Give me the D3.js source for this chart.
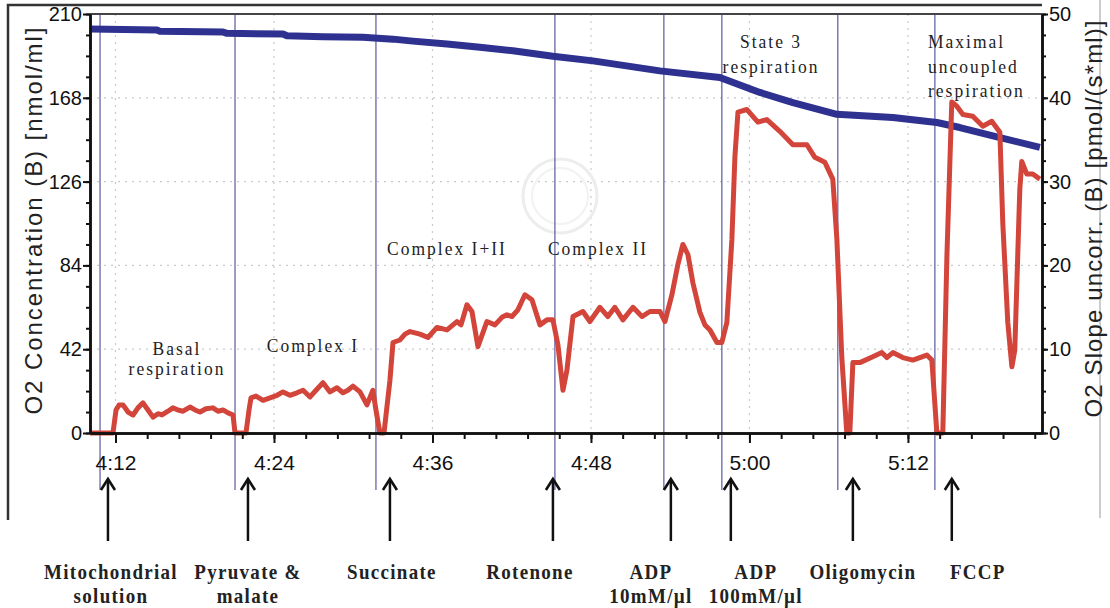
<!DOCTYPE html>
<html><head><meta charset="utf-8">
<script src="https://cdn.jsdelivr.net/npm/d3@7"></script>
<style>body{margin:0;background:#fff}svg{display:block}</style>
</head><body><svg id="c" width="1110" height="608"></svg>
<script>
// ---------------- DATA ----------------
// time in minutes after 0:00 (e.g. 252 = 4:12)
const redTime = [250.07,250.83,251.81,252.04,252.27,252.57,252.95,253.33,253.70,254.08,254.46,254.84,255.22,255.52,255.97,256.35,256.73,257.11,257.64,258.02,258.40,258.85,259.38,259.76,260.14,260.52,260.90,261.05,261.88,262.11,262.26,262.64,263.17,263.70,264.23,264.68,265.21,265.74,266.20,266.73,267.18,267.71,268.24,268.77,269.22,269.60,269.98,270.51,271.04,271.49,271.72,272.02,272.33,272.78,273.01,273.54,273.92,274.30,275.05,275.66,276.34,277.10,277.85,278.16,278.61,278.99,279.44,280.12,280.73,281.26,281.64,282.02,282.47,283.00,283.53,284.14,284.67,285.12,285.50,285.88,286.18,286.64,287.39,287.92,288.68,289.28,289.81,290.42,291.18,291.86,292.46,293.22,293.60,294.13,294.58,294.96,295.34,295.72,296.25,296.63,297.01,297.54,297.91,298.29,298.67,298.90,299.13,299.81,300.64,301.32,302.30,303.29,304.35,304.95,305.71,306.31,306.62,306.99,307.37,307.60,307.83,308.36,309.34,310.02,310.40,310.86,311.61,312.37,313.43,313.81,314.19,314.64,314.95,315.32,315.70,316.16,316.91,317.67,318.35,318.96,319.18,319.56,319.87,320.09,320.47,320.62,321.00,321.45,321.99];
const redValue = [0,0,0,2.75,3.35,3.35,2.5,2.15,3.0,3.6,2.75,1.9,2.3,2.15,2.6,3.0,2.75,2.6,3.1,2.75,2.5,2.9,3.0,2.6,2.75,2.4,2.15,0,0,2.75,4.2,4.4,3.9,4.2,4.5,4.9,4.5,4.8,5.1,4.3,5.1,6.0,4.9,5.4,4.8,5.1,5.6,4.9,3.35,5.1,2.75,0,0,6.3,10.8,11.1,11.8,12.1,11.8,11.4,12.6,12.3,13.3,12.9,15.3,14.5,10.3,13.3,12.9,13.8,14.1,13.9,14.7,16.5,15.9,12.9,13.5,13.5,10.5,5.1,7.5,13.9,14.5,13.3,15.0,13.9,15.0,13.5,15.0,13.9,14.5,14.5,13.3,16.5,20.1,22.5,21.3,17.9,14.4,12.9,12.3,10.8,10.8,13.2,23.1,33.0,38.3,38.6,37.1,37.4,36.0,34.4,34.4,32.9,32.3,30.3,23.1,9.1,0,0,8.4,8.4,9.1,9.6,9.0,9.6,9.0,8.7,9.3,8.7,0,0,21.1,39.5,39.0,38.0,37.8,36.6,37.2,35.9,25.1,13.2,7.9,9.9,29.1,32.4,30.9,30.9,30.3];

const blueTime  = [250.07,255.14,255.37,260.14,260.44,264.68,264.98,267.71,270.74,273.01,274.52,277.10,279.59,282.09,285.12,288.15,293.22,297.76,300.79,303.29,306.62,310.86,314.19,315.93,318.43,321.99];
const blueValue = [202.5,202.0,201.3,201.0,200.3,200.0,199.1,198.6,198.3,197.4,196.4,195.0,193.3,191.6,188.8,186.5,181.5,178.2,170.7,165.6,159.7,158.1,155.6,153.1,148.9,143.2];

const xTickTimes  = [252,264,276,288,300,312];
const xTickLabels = ["4:12","4:24","4:36","4:48","5:00","5:12"];
const leftTicks   = [0,42,84,126,168,210];
const rightTicks  = [0,10,20,30,40,50];

const eventTimes = [250.83,261.05,271.72,285.27,293.52,297.91,306.69,314.04];
const arrowTimes = [251.43,262.03,272.78,285.12,294.05,298.59,307.83,315.32];
const additions  = [["Mitochondrial","solution"],["Pyruvate &","malate"],["Succinate"],["Rotenone"],["ADP","10mM/\u00b5l"],["ADP","100mM/\u00b5l"],["Oligomycin"],["FCCP"]];
const phaseLabels = [["Basal","respiration"],["Complex I"],["Complex I+II"],["Complex II"],["State 3","respiration"],["Maximal","uncoupled","respiration"]];

const leftTitle  = "O2 Concentration (B) [nmol/ml]";
const rightTitle = "O2 Slope uncorr. (B) [pmol/(s*ml)]";

// ---------------- LAYOUT ----------------
const svg = d3.select("#c");
const L = 90, R = 1042, T = 14, B = 433;
const x  = d3.scaleLinear().domain([250.07, 322.15]).range([L, R]);
const yL = d3.scaleLinear().domain([0, 210]).range([B, T]);
const yR = d3.scaleLinear().domain([0, 50]).range([B, T]);
const SANS = "'Liberation Sans', Arial, sans-serif";
const SERIF = "'Liberation Serif', 'Times New Roman', serif";

// outer frame
svg.append("path").attr("d", `M8,520 L8,5 L${R},5`).attr("fill","none").attr("stroke","#333").attr("stroke-width",2.5);
svg.append("line").attr("x1",1100).attr("x2",1100).attr("y1",0).attr("y2",518).attr("stroke","#bbb").attr("stroke-width",1.5);

// grid (dotted)
const grid = svg.append("g").attr("stroke","#c9c9c9").attr("stroke-width",1.2).attr("stroke-dasharray","2,5");
grid.selectAll("line.h").data(leftTicks.slice(1,-1)).join("line")
  .attr("x1",L).attr("x2",R).attr("y1",d=>yL(d)).attr("y2",d=>yL(d));
grid.selectAll("line.v").data(xTickTimes).join("line")
  .attr("x1",d=>x(d)).attr("x2",d=>x(d)).attr("y1",T).attr("y2",B);

// watermark
svg.append("circle").attr("cx",560).attr("cy",196).attr("r",37).attr("fill","none").attr("stroke","#ededed").attr("stroke-width",3);
svg.append("circle").attr("cx",560).attr("cy",196).attr("r",28).attr("fill","none").attr("stroke","#f2f2f2").attr("stroke-width",2);

// plot top border
svg.append("line").attr("x1",L).attr("x2",R).attr("y1",T).attr("y2",T).attr("stroke","#444").attr("stroke-width",2);

// event lines
svg.append("g").selectAll("line").data(eventTimes).join("line")
  .attr("x1",d=>x(d)).attr("x2",d=>x(d)).attr("y1",T).attr("y2",490)
  .attr("stroke","#3d3d8f").attr("stroke-width",1.2).attr("opacity",0.85);

// series
const blueLine = d3.line().x((d,i)=>x(blueTime[i])).y(d=>yL(d));
svg.append("path").attr("d", blueLine(blueValue)).attr("fill","none")
  .attr("stroke","#2e318f").attr("stroke-width",7).attr("stroke-linejoin","round");
const redLine = d3.line().x((d,i)=>x(redTime[i])).y(d=>yR(d));
svg.append("path").attr("d", redLine(redValue)).attr("fill","none")
  .attr("stroke","#d3443a").attr("stroke-width",5).attr("stroke-linejoin","round");

// axes
function styleAxis(g, fs){
  g.select(".domain").attr("stroke","#111").attr("stroke-width",2.5);
  g.selectAll(".tick line").attr("stroke","#111").attr("stroke-width",2);
  g.selectAll("text").attr("font-family",SANS).attr("font-size",fs).attr("fill","#111");
}
const xMinor = d3.range(0,30).map(k=>252+k*2.4);
svg.append("g").attr("transform",`translate(0,${B})`)
  .call(d3.axisBottom(x).tickValues(xMinor).tickSize(6).tickSizeOuter(0).tickFormat(""))
  .call(g=>styleAxis(g,20));
svg.append("g").attr("transform",`translate(0,${B})`)
  .call(d3.axisBottom(x).tickValues(xTickTimes).tickSize(10).tickSizeOuter(0).tickPadding(12)
    .tickFormat((d,i)=>xTickLabels[i]))
  .call(g=>styleAxis(g,21));

svg.append("g").attr("transform",`translate(${L},0)`)
  .call(d3.axisLeft(yL).tickValues(d3.range(0,211,10.5)).tickSize(4).tickSizeOuter(0).tickFormat(""))
  .call(g=>styleAxis(g,20));
svg.append("g").attr("transform",`translate(${L},0)`)
  .call(d3.axisLeft(yL).tickValues(leftTicks).tickSize(7).tickSizeOuter(0).tickPadding(1))
  .call(g=>styleAxis(g,20));

svg.append("g").attr("transform",`translate(${R},0)`)
  .call(d3.axisRight(yR).tickValues(d3.range(0,50.1,2.5)).tickSize(4).tickSizeOuter(0).tickFormat(""))
  .call(g=>styleAxis(g,20));
svg.append("g").attr("transform",`translate(${R},0)`)
  .call(d3.axisRight(yR).tickValues(rightTicks).tickSize(6).tickSizeOuter(0).tickPadding(1))
  .call(g=>styleAxis(g,20));

// axis titles
svg.append("text").attr("transform","translate(33,221) rotate(-90)")
  .attr("text-anchor","middle").attr("dominant-baseline","central")
  .attr("font-family",SANS).attr("font-size",24).attr("fill","#222")
  .attr("textLength",387).attr("lengthAdjust","spacing").text(leftTitle);
svg.append("text").attr("transform","translate(1093,219) rotate(-90)")
  .attr("text-anchor","middle").attr("dominant-baseline","central")
  .attr("font-family",SANS).attr("font-size",24).attr("fill","#222")
  .attr("textLength",397).attr("lengthAdjust","spacing").text(rightTitle);

// serif helper (slightly tall glyphs like the scan)
function serifText(px, py, str, o){
  svg.append("text").attr("transform",`translate(${px},${py}) scale(1,1.12)`)
    .attr("text-anchor",o.anchor||"middle").attr("font-family",SERIF)
    .attr("font-size",o.size).attr("font-weight",o.weight||"normal")
    .attr("letter-spacing",o.ls).attr("fill","#222").text(str);
}

// phase annotations
const phasePos = [
  {x:177,y:[355,375]}, {x:313,y:[352]}, {x:447,y:[255]}, {x:598,y:[255]},
  {x:771,y:[48,73]}, {x:928,y:[48,73,97],anchor:"start"}
];
phaseLabels.forEach((lines,i)=>{
  lines.forEach((s,j)=>serifText(phasePos[i].x, phasePos[i].y[j], s,
    {size:17.5, ls:2, anchor:phasePos[i].anchor}));
});

// arrows + addition labels
const labelDx = [3,0,2,-23,-20,25,10,26];
arrowTimes.forEach((t,i)=>{
  const ax = x(t);
  svg.append("line").attr("x1",ax).attr("x2",ax).attr("y1",480).attr("y2",541)
    .attr("stroke","#111").attr("stroke-width",2.5);
  svg.append("path").attr("d",`M${ax-7},490 L${ax},479 L${ax+7},490`)
    .attr("fill","none").attr("stroke","#111").attr("stroke-width",2.6);
  additions[i].forEach((s,j)=>serifText(ax+labelDx[i], 579+j*24, s,
    {size:19, ls:1.3, weight:"bold"}));
});
</script></body></html>
